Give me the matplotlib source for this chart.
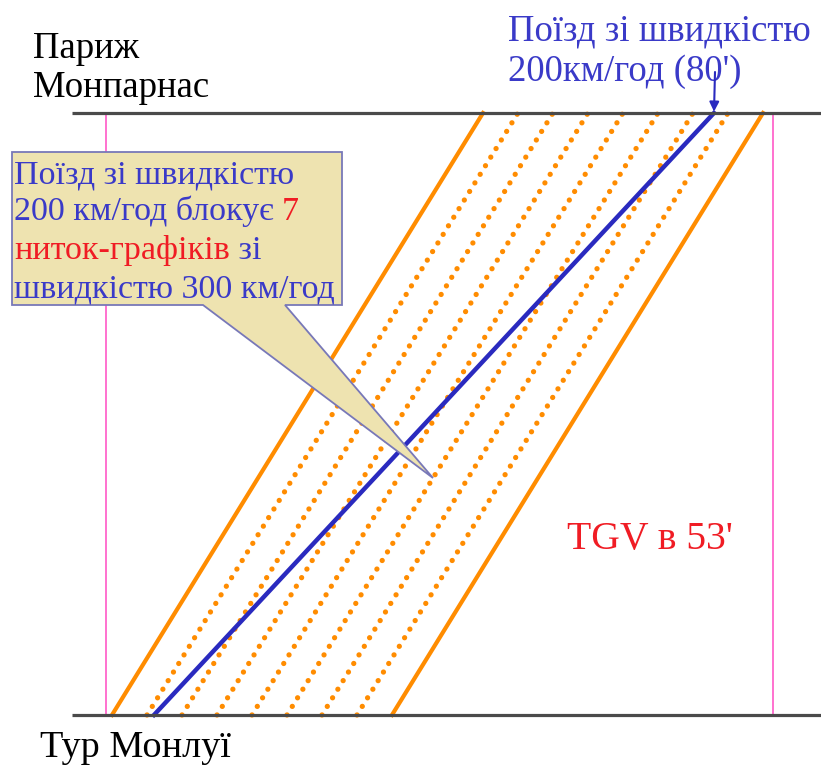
import matplotlib
matplotlib.use("Agg")
import matplotlib.pyplot as plt
from matplotlib.patches import Polygon

plt.rcParams['font.family'] = ['Liberation Serif', 'DejaVu Serif']

# data: time in minutes, distance 0 = Tours, 1 = Paris
tgv_starts = [0, 5, 10, 15, 20, 25, 30, 35, 40]
tgv_solid = [True, False, False, False, False, False, False, False, True]
tgv_duration = 53
slow_start = 6
slow_duration = 80
frame_t = [-0.85, 94.4]
station_y = [0, 1]
station_names = ["Тур Монлуї", "Париж\nМонпарнас"]

orange = "#FF8C00"
blue = "#2A2ABF"
txt_blue = "#3A3AC8"
red = "#F01C24"

W, H = 821, 767
fig = plt.figure(figsize=(W / 100, H / 100), dpi=100)
ax = fig.add_axes([0, 0, 1, 1])
ax.set_xlim(-16.0, 101.29)
ax.set_ylim(-0.0864, 1.1877)
ax.axis("off")


def px(x, y):
    return x / W, 1 - y / H


# frame
for t in frame_t:
    ax.plot([t, t], station_y, color="#FF66CC", lw=1.3, zorder=1)
for y in station_y:
    ax.plot([-5.7, 101.29], [y, y], color="#4A4A4A", lw=2.3, zorder=5,
            solid_capstyle="butt")

# TGV paths
for t, solid in zip(tgv_starts, tgv_solid):
    if solid:
        ax.plot([t, t + tgv_duration], [0, 1], color=orange, lw=3, zorder=3)
    else:
        ax.plot([t, t + tgv_duration], [0, 1], color=orange, lw=3.8,
                linestyle=(0, (0.01, 1.9)), dash_capstyle="round", zorder=3)

# slow train
ax.plot([slow_start, slow_start + slow_duration], [0, 1], color=blue, lw=3.2,
        zorder=4)

# station labels
ax.text(*px(33, 58), "Париж", transform=ax.transAxes, fontsize=26.5,
        va="baseline", color="black")
ax.text(*px(33, 97), "Монпарнас", transform=ax.transAxes, fontsize=26.5,
        va="baseline", color="black")
ax.text(*px(40, 757), station_names[0], transform=ax.transAxes, fontsize=27.5,
        va="baseline", color="black")

# top right label + arrow
ax.text(*px(508, 40), "Поїзд зі швидкістю", transform=ax.transAxes,
        fontsize=26.5, va="baseline", color=txt_blue)
ax.text(*px(508, 81), "200км/год (80')", transform=ax.transAxes,
        fontsize=26.5, va="baseline", color=txt_blue)
ax.annotate("", xy=(slow_start + slow_duration, 1.0),
            xytext=px(715, 72), textcoords="axes fraction",
            arrowprops=dict(arrowstyle="-|>", color=blue, lw=1.5,
                            mutation_scale=14, shrinkA=0, shrinkB=1))

# TGV label
ax.text(*px(567, 549), "TGV в 53'", transform=ax.transAxes, fontsize=28.5,
        va="baseline", color=red)

# callout box
callout = [(12, 152), (342, 152), (342, 305), (285, 305), (433, 478),
           (203, 305), (12, 305)]
ax.add_patch(Polygon([px(x, y) for x, y in callout], closed=True,
                     transform=ax.transAxes, facecolor="#EEE3B0",
                     edgecolor="#7878B8", lw=1.3, zorder=6))

lines = [
    [("Поїзд зі швидкістю", txt_blue)],
    [("200 км/год блокує ", txt_blue), ("7", red)],
    [("ниток-графіків", red), (" зі", txt_blue)],
    [("швидкістю 300 км/год", txt_blue)],
]
baselines = [183, 220, 259, 297]
renderer = fig.canvas.get_renderer()
for parts, yb in zip(lines, baselines):
    x = 14
    for s, c in parts:
        t = ax.text(*px(x, yb), s, transform=ax.transAxes, fontsize=24.5,
                    va="baseline", color=c, zorder=7)
        bb = t.get_window_extent(renderer)
        x += bb.width

fig.savefig("out.png", dpi=100)
